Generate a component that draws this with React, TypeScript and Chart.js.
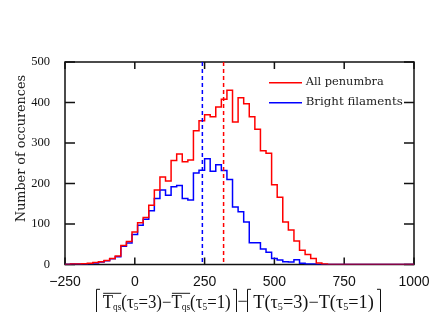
import React, { useEffect, useRef } from 'react';
import { Chart, registerables } from 'chart.js';

Chart.register(...registerables);

// ---------- data ----------
const binLeftEdges = [
  -250, -230, -210, -190, -170, -150, -130, -110, -90, -70, -50, -30, -10, 10, 30, 50,
  70, 90, 110, 130, 150, 170, 190, 210, 230, 250, 270, 290, 310, 330, 350, 370,
  390, 410, 430, 450, 470, 490, 510, 530, 550, 570, 590, 610, 630, 650, 670, 690,
  710, 730, 750, 770, 790, 810, 830, 850, 870, 890, 910, 930, 950, 970, 990,
];
const lastBinRightEdge = 1010;

const allPenumbraCounts = [
  0, 0, 1, 1, 2, 3, 5, 7, 10, 15, 21, 47, 57, 80, 103, 116,
  146, 184, 216, 206, 257, 273, 254, 258, 330, 355, 370, 365, 389, 408, 430, 352,
  412, 397, 365, 334, 281, 275, 197, 166, 105, 85, 58, 35, 25, 15, 4, 1,
  0, 0, 0, 0, 0, 0, 0, 0, 0, 0, 0, 0, 0, 0, 0,
];
const brightFilamentCounts = [
  0, 0, 1, 1, 1, 2, 4, 6, 9, 14, 19, 45, 53, 74, 97, 112,
  133, 163, 184, 171, 192, 195, 163, 159, 226, 233, 261, 230, 246, 232, 210, 142,
  130, 105, 54, 54, 38, 30, 15, 11, 7, 6, 12, 3, 1, 1, 0, 0,
  0, 0, 0, 0, 0, 0, 0, 0, 0, 0, 0, 0, 0, 0, 0,
];

const seriesLabels = ['All penumbra', 'Bright filaments'];
const seriesColors = ['#ff0000', '#0000ff'];
const meanValues = [318, 242];

const xTickValues = [-250, 0, 250, 500, 750, 1000];
const yTickValues = [0, 100, 200, 300, 400, 500];
const yAxisTitle = 'Number of occurences';

// ---------- helpers ----------
function toSteps(counts: number[]) {
  const pts = binLeftEdges.map((e, i) => ({ x: e, y: counts[i] }));
  pts.push({ x: lastBinRightEdge, y: counts[counts.length - 1] });
  return pts;
}

const MAIN_FONT = '18px "Liberation Serif"';
const SUB_FONT = '10px "Liberation Serif"';

type Piece = { t: string; sub?: boolean; bar?: boolean };

const titleGroupLeft: Piece[] = [
  { t: 'T', bar: true }, { t: 'qs', sub: true, bar: true }, { t: '(τ' }, { t: '5', sub: true }, { t: '=3)−' },
  { t: 'T', bar: true }, { t: 'qs', sub: true, bar: true }, { t: '(τ' }, { t: '5', sub: true }, { t: '=1)' },
];
const titleGroupRight: Piece[] = [
  { t: 'T(τ' }, { t: '5', sub: true }, { t: '=3)−T(τ' }, { t: '5', sub: true }, { t: '=1)' },
];

function drawGroup(ctx: CanvasRenderingContext2D, pieces: Piece[], x0: number, targetW: number, baseline: number) {
  const widths = pieces.map((p) => {
    ctx.font = p.sub ? SUB_FONT : MAIN_FONT;
    return ctx.measureText(p.t).width;
  });
  const total = widths.reduce((a, b) => a + b, 0);
  const sx = targetW / total;
  ctx.save();
  ctx.translate(x0, baseline);
  ctx.scale(sx, 1);
  ctx.textAlign = 'left';
  ctx.textBaseline = 'alphabetic';
  let cx = 0;
  let barStart: number | null = null;
  pieces.forEach((p, i) => {
    ctx.font = p.sub ? SUB_FONT : MAIN_FONT;
    ctx.fillText(p.t, cx, p.sub ? 2 : 0);
    if (p.bar && barStart === null) barStart = cx + 0.5;
    const end = cx + widths[i];
    const nextBar = pieces[i + 1] && pieces[i + 1].bar;
    if (p.bar && !nextBar && barStart !== null) {
      ctx.beginPath();
      ctx.moveTo(barStart, -15);
      ctx.lineTo(end, -15);
      ctx.lineWidth = 1;
      ctx.stroke();
      barStart = null;
    }
    cx = end;
  });
  ctx.restore();
}

function fitText(ctx: CanvasRenderingContext2D, text: string, x: number, y: number, w: number, font: string) {
  ctx.font = font;
  const nat = ctx.measureText(text).width;
  ctx.save();
  ctx.translate(x, y);
  ctx.scale(w / nat, 1);
  ctx.fillText(text, 0, 0);
  ctx.restore();
}

const decorPlugin = {
  id: 'decor',
  beforeDatasetsDraw(chart: any) {
    const { ctx, chartArea } = chart;
    const { left, right, top, bottom } = chartArea;
    const xs = chart.scales.x;
    const ys = chart.scales.y;
    ctx.save();
    ctx.strokeStyle = '#111';
    ctx.lineWidth = 1.5;
    ctx.strokeRect(left, top, right - left, bottom - top);
    ctx.beginPath();
    for (const v of xTickValues) {
      const px = xs.getPixelForValue(v);
      ctx.moveTo(px, bottom);
      ctx.lineTo(px, bottom - 7);
      ctx.moveTo(px, top);
      ctx.lineTo(px, top + 7);
    }
    for (const v of yTickValues) {
      const py = ys.getPixelForValue(v);
      ctx.moveTo(left, py);
      ctx.lineTo(left + 10, py);
      ctx.moveTo(right, py);
      ctx.lineTo(right - 10, py);
    }
    ctx.stroke();
    ctx.restore();
  },
  afterDatasetsDraw(chart: any) {
    const { ctx, chartArea } = chart;
    const { top, bottom } = chartArea;
    const xs = chart.scales.x;
    ctx.save();
    // mean (dashed) lines
    ctx.lineWidth = 1.5;
    ctx.setLineDash([4, 3]);
    meanValues.forEach((m, i) => {
      const px = xs.getPixelForValue(m);
      ctx.strokeStyle = seriesColors[i];
      ctx.beginPath();
      ctx.moveTo(px, top);
      ctx.lineTo(px, bottom);
      ctx.stroke();
    });
    ctx.setLineDash([]);

    // legend
    const legendWidths = [78, 97];
    seriesLabels.forEach((lab, i) => {
      const ly = top + 20.7 + 20 * i;
      ctx.strokeStyle = seriesColors[i];
      ctx.lineWidth = 1.5;
      ctx.beginPath();
      ctx.moveTo(269, ly);
      ctx.lineTo(302, ly);
      ctx.stroke();
      ctx.fillStyle = '#222';
      ctx.textAlign = 'left';
      ctx.textBaseline = 'alphabetic';
      fitText(ctx, lab, 305.7, ly + 1.8, legendWidths[i], '11.5px "DejaVu Serif"');
    });

    // y axis title
    ctx.fillStyle = '#222';
    ctx.save();
    ctx.translate(25, 148.5);
    ctx.rotate(-Math.PI / 2);
    ctx.textAlign = 'left';
    ctx.textBaseline = 'alphabetic';
    ctx.font = '13.5px "DejaVu Serif"';
    const nat = ctx.measureText(yAxisTitle).width;
    ctx.scale(147 / nat, 1);
    ctx.fillText(yAxisTitle, -nat / 2, 0);
    ctx.restore();

    // x axis title
    ctx.fillStyle = '#111';
    ctx.strokeStyle = '#111';
    const base = 308.3;
    drawGroup(ctx, titleGroupLeft, 102.7, 128, base);
    drawGroup(ctx, titleGroupRight, 253.3, 120.5, base);
    ctx.font = MAIN_FONT;
    ctx.textAlign = 'center';
    ctx.textBaseline = 'alphabetic';
    ctx.fillText('−', 242.5, base - 1);
    // brackets
    ctx.lineWidth = 1;
    ctx.beginPath();
    const bt = 289.3;
    const bb = 330;
    ctx.moveTo(100, bt); ctx.lineTo(96.5, bt); ctx.lineTo(96.5, bb);
    ctx.moveTo(233, bt); ctx.lineTo(236.5, bt); ctx.lineTo(236.5, bb);
    ctx.moveTo(251, bt); ctx.lineTo(247.5, bt); ctx.lineTo(247.5, bb);
    ctx.moveTo(377, bt); ctx.lineTo(380.5, bt); ctx.lineTo(380.5, bb);
    ctx.stroke();
    ctx.restore();
  },
};

export default function App() {
  const ref = useRef<HTMLCanvasElement | null>(null);
  useEffect(() => {
    if (!ref.current) return;
    const chart = new Chart(ref.current, {
      type: 'line',
      data: {
        datasets: [
          {
            label: seriesLabels[0],
            data: toSteps(allPenumbraCounts),
            borderColor: seriesColors[0],
            borderWidth: 1.5,
            stepped: 'after',
            pointRadius: 0,
            fill: false,
          },
          {
            label: seriesLabels[1],
            data: toSteps(brightFilamentCounts),
            borderColor: seriesColors[1],
            borderWidth: 1.5,
            stepped: 'after',
            pointRadius: 0,
            fill: false,
          },
        ],
      },
      options: {
        animation: false,
        responsive: false,
        devicePixelRatio: 1,
        layout: { padding: { top: 62, right: 22, left: 0, bottom: 0 } },
        plugins: {
          legend: { display: false },
          tooltip: { enabled: false },
        },
        scales: {
          x: {
            type: 'linear',
            min: -250,
            max: 1000,
            grid: { display: false, drawTicks: false },
            border: { display: false },
            afterBuildTicks: (s: any) => {
              s.ticks = xTickValues.map((v) => ({ value: v }));
            },
            afterFit: (s: any) => {
              s.height = 47.5;
              s.paddingLeft = 0;
              s.paddingRight = 0;
            },
            ticks: {
              autoSkip: false,
              maxRotation: 0,
              padding: 9,
              color: '#111',
              font: { family: '"Liberation Sans"', size: 14 },
              callback: (v: any) => String(v).replace('-', '−'),
            },
          },
          y: {
            type: 'linear',
            min: 0,
            max: 500,
            grid: { display: false, drawTicks: false },
            border: { display: false },
            afterBuildTicks: (s: any) => {
              s.ticks = yTickValues.map((v) => ({ value: v }));
            },
            afterFit: (s: any) => {
              s.width = 65;
              s.paddingTop = 0;
              s.paddingBottom = 0;
            },
            ticks: {
              padding: 15,
              color: '#111',
              font: { family: '"Liberation Serif"', size: 12.5 },
            },
          },
        },
      },
      plugins: [decorPlugin],
    } as any);
    return () => chart.destroy();
  }, []);
  return (
    <div style={{ position: 'fixed', left: 0, top: 0, width: 436, height: 312, background: '#fff' }}>
      <canvas ref={ref} width={436} height={312} style={{ display: 'block' }} />
    </div>
  );
}
